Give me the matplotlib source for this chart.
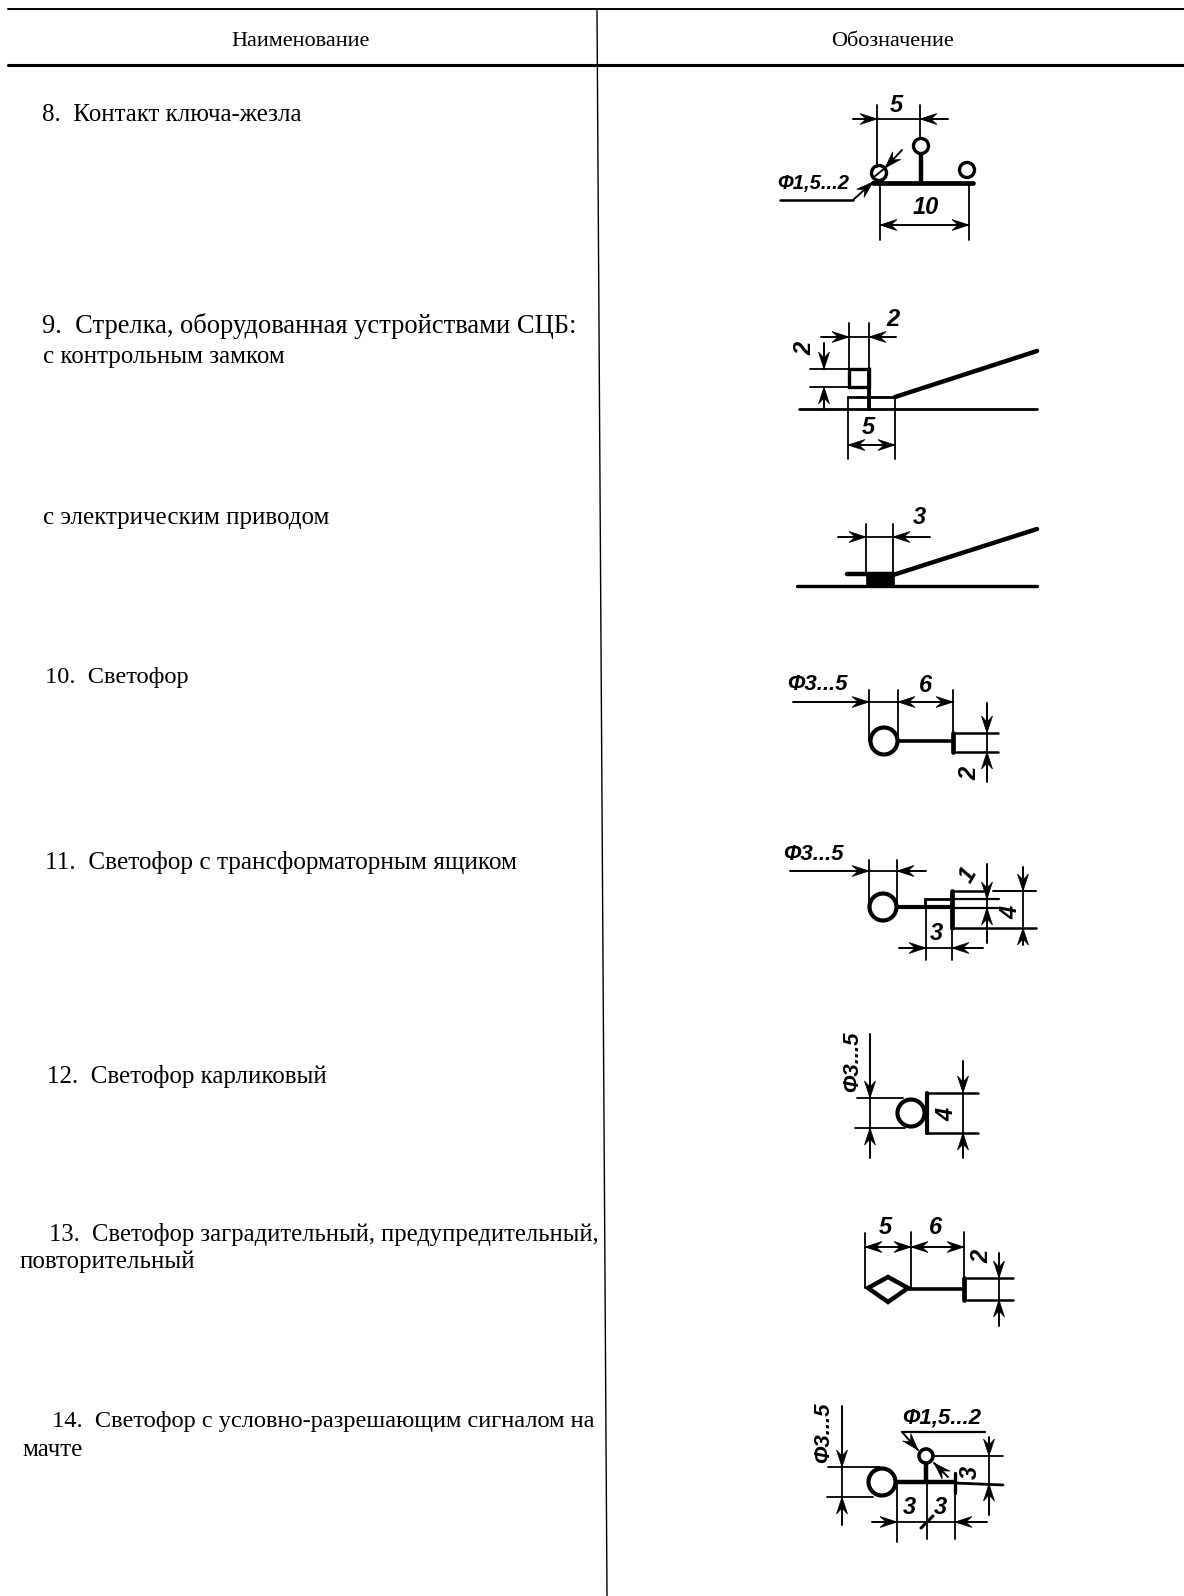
import math
import matplotlib
matplotlib.use("Agg")
import matplotlib.pyplot as plt
from matplotlib.patches import Circle, Polygon

W, H = 1184, 1596

header_names = ["Наименование", "Обозначение"]
row_labels = [
    "8.  Контакт ключа-жезла",
    "9.  Стрелка, оборудованная устройствами СЦБ:",
    "с контрольным замком",
    "с электрическим приводом",
    "10.  Светофор",
    "11.  Светофор с трансформаторным ящиком",
    "12.  Светофор карликовый",
    "13.  Светофор заградительный, предупредительный,",
    "повторительный",
    "14.  Светофор с условно-разрешающим сигналом на",
    "мачте",
]
label_x = [42, 42, 43, 43, 45, 45, 47, 49, 20, 52, 22]
label_y = [115, 326, 357, 518, 678, 863, 1076, 1235, 1262, 1422, 1450]
label_size = [18, 19.1, 18, 18, 17.6, 18.2, 18, 17.7, 18, 17.6, 18]

fig = plt.figure(figsize=(W / 100, H / 100), dpi=100)
ax = fig.add_axes([0, 0, 1, 1])
ax.set_xlim(0, W)
ax.set_ylim(H, 0)
ax.axis("off")


def line(xs, ys, lw=1.3):
    ax.plot(xs, ys, color="black", lw=lw, solid_capstyle="round", solid_joinstyle="miter")


def arrow(x0, y0, x1, y1):
    # tail to tip, thin shaft and a barbed head, in pixel coords of the axes
    d = math.hypot(x1 - x0, y1 - y0)
    ux, uy = (x1 - x0) / d, (y1 - y0) / d
    nx, ny = -uy, ux
    head = [
        (x1, y1),
        (x1 - 17 * ux + 5.5 * nx, y1 - 17 * uy + 5.5 * ny),
        (x1 - 11 * ux, y1 - 11 * uy),
        (x1 - 17 * ux - 5.5 * nx, y1 - 17 * uy - 5.5 * ny),
    ]
    ax.add_patch(Polygon(head, fc="black", ec="black", lw=0.5))
    line([x0, x1], [y0, y1], 1.4)


def ring(x, y, r, lw=3.0):
    ax.add_patch(Circle((x, y), r, fill=False, ec="black", lw=lw))


def dim(x, y, s, rot=0, size=17):
    ax.text(x, y, s, fontsize=size, family="Liberation Sans",
            style="italic", weight="bold", rotation=rot, ha="center", va="center")


# table rules
line([8, W], [9, 9], 1.4)
line([8, W], [65, 65], 2.2)
line([597, 607], [9, H], 1.0)

ax.text(301, 41, header_names[0], fontsize=16, family="Liberation Serif", ha="center", va="center")
ax.text(892, 41, header_names[1], fontsize=16, family="Liberation Serif", ha="center", va="center")
for s, x, y, fs in zip(row_labels, label_x, label_y, label_size):
    ax.text(x, y, s, fontsize=fs, family="Liberation Serif", ha="left", va="center")

# 8
line([873, 973], [183, 183], 3.4)
ring(879, 173, 7.5, 2.4)
ring(921, 146, 7.5, 2.4)
ring(967, 170, 7.5, 2.4)
line([921, 921], [155, 183], 3.2)
line([874, 885], [177, 168], 1.3)
line([877, 877], [105, 167])
line([920, 920], [105, 137])
line([880, 880], [183, 240])
line([969, 969], [183, 240])
line([877, 920], [119, 119])
arrow(853, 119, 877, 119)
arrow(948, 119, 920, 119)
arrow(925, 225, 880, 225)
arrow(925, 225, 969, 225)
line([780, 853], [200, 200], 1.8)
arrow(853, 200, 873, 182)
arrow(902, 150, 885, 168)
dim(896, 105, "5")
dim(813, 183, "Ф1,5...2", size=14.5)
dim(926, 208, "10")

# 9, control lock
line([799, 1037], [409, 409], 2.0)
line([895, 1037], [397, 351], 3.2)
line([848, 895], [397, 397], 2.0)
line([848, 848], [397, 459])
line([895, 895], [397, 459])
ax.add_patch(Polygon([(849, 369), (869, 369), (869, 387), (849, 387)], fill=False, ec="black", lw=2.4))
line([869, 869], [369, 409], 2.8)
line([849, 849], [323, 369])
line([869, 869], [323, 369])
line([810, 849], [369, 369])
line([810, 849], [387, 387])
line([849, 869], [337, 337])
arrow(821, 337, 849, 337)
arrow(896, 337, 869, 337)
arrow(824, 343, 824, 369)
arrow(824, 409, 824, 387)
arrow(872, 445, 848, 445)
arrow(872, 445, 895, 445)
dim(893, 320, "2")
dim(805, 348, "2", rot=90)
dim(868, 428, "5")

# 9, electric drive
line([797, 1037], [586, 586], 2.4)
line([893, 1037], [575, 529], 3.2)
line([847, 893], [574, 574], 3.2)
ax.add_patch(Polygon([(866, 573), (894, 573), (894, 586), (866, 586)], fc="black", ec="black", lw=0.5))
line([866, 866], [524, 574])
line([893, 893], [524, 574])
line([866, 893], [537, 537])
arrow(838, 537, 866, 537)
arrow(930, 537, 893, 537)
dim(919, 518, "3")

# 10
ring(884, 741, 13.5, 3.0)
line([869, 869], [690, 741])
line([898, 898], [690, 741])
arrow(793, 702, 869, 702)
line([869, 898], [702, 702])
arrow(925, 702, 898, 702)
arrow(925, 702, 953, 702)
line([898, 953], [741, 741], 2.6)
line([953, 953], [733, 752], 3.4)
line([953, 998], [733, 733], 1.8)
line([953, 998], [752, 752], 1.8)
line([953, 953], [690, 733])
arrow(987, 703, 987, 733)
arrow(987, 782, 987, 752)
line([987, 987], [733, 752])
dim(817, 684, "Ф3...5", size=16)
dim(925, 685, "6")
dim(970, 773, "2", rot=90)

# 11
ring(883, 907, 13.5, 3.0)
line([869, 869], [860, 907])
line([897, 897], [860, 907])
line([869, 897], [871, 871])
arrow(790, 871, 869, 871)
arrow(926, 871, 897, 871)
line([897, 953], [907, 907], 3.0)
ax.add_patch(Polygon([(925, 899), (952, 899), (952, 907), (925, 907)], fill=False, ec="black", lw=2.0))
line([952, 952], [891, 928], 3.4)
line([952, 983], [891, 891], 1.8)
line([993, 1036], [891, 891], 1.4)
line([952, 999], [899, 899], 1.6)
line([952, 998], [908, 908], 1.6)
line([952, 1036], [928, 928], 1.8)
line([987, 987], [899, 908])
arrow(987, 864, 987, 899)
arrow(987, 943, 987, 908)
line([1023, 1023], [891, 928])
arrow(1023, 867, 1023, 891)
arrow(1023, 945, 1023, 928)
line([926, 926], [907, 960])
line([952, 952], [928, 960])
line([926, 952], [948, 948])
arrow(899, 948, 926, 948)
arrow(983, 948, 952, 948)
dim(813, 855, "Ф3...5", size=16)
dim(968, 875, "1", rot=60)
dim(1011, 912, "4", rot=90)
dim(936, 934, "3")

# 12
ring(911, 1113, 13.5, 3.0)
line([857, 903], [1098, 1098])
line([855, 905], [1128, 1128])
line([870, 870], [1098, 1128])
arrow(870, 1034, 870, 1098)
arrow(870, 1158, 870, 1128)
line([927, 927], [1093, 1133], 3.0)
line([927, 978], [1093, 1093], 1.8)
line([927, 978], [1133, 1133], 1.8)
line([963, 963], [1093, 1133])
arrow(963, 1061, 963, 1093)
arrow(963, 1158, 963, 1133)
dim(853, 1062, "Ф3...5", rot=90, size=16)
dim(947, 1114, "4", rot=90)

# 13
ax.add_patch(Polygon([(868, 1288), (888, 1277), (908, 1288), (888, 1302)], fill=False, ec="black", lw=3.2))
line([865, 865], [1233, 1288])
line([911, 911], [1232, 1288])
line([964, 964], [1232, 1277])
arrow(888, 1247, 865, 1247)
arrow(888, 1247, 911, 1247)
arrow(937, 1247, 911, 1247)
arrow(937, 1247, 964, 1247)
line([908, 964], [1289, 1289], 2.6)
line([964, 964], [1278, 1300], 3.4)
line([964, 1013], [1278, 1278], 1.8)
line([964, 1013], [1300, 1300], 1.8)
line([999, 999], [1278, 1300])
arrow(999, 1253, 999, 1278)
arrow(999, 1326, 999, 1300)
dim(885, 1227, "5")
dim(935, 1227, "6")
dim(982, 1256, "2", rot=90)

# 14
ring(882, 1482, 13.5, 3.0)
line([828, 880], [1467, 1467])
line([827, 873], [1497, 1497])
line([842, 842], [1467, 1497])
arrow(842, 1406, 842, 1467)
arrow(842, 1525, 842, 1497)
line([897, 955], [1482, 1482], 3.2)
line([955, 1003], [1483, 1485], 2.0)
ring(926, 1456, 7, 2.6)
line([926, 926], [1464, 1482], 3.2)
line([955, 955], [1473, 1493], 2.4)
line([897, 897], [1482, 1542])
line([927, 927], [1482, 1539])
line([955, 955], [1493, 1539])
line([897, 955], [1522, 1522])
arrow(872, 1522, 897, 1522)
arrow(987, 1522, 955, 1522)
line([921, 933], [1528, 1516], 2.2)
line([902, 985], [1432, 1432], 1.6)
arrow(902, 1432, 918, 1450)
arrow(948, 1477, 934, 1463)
line([935, 1003], [1456, 1456])
line([989, 989], [1456, 1484])
arrow(989, 1437, 989, 1456)
arrow(989, 1515, 989, 1484)
dim(824, 1433, "Ф3...5", rot=90, size=16)
dim(942, 1418, "Ф1,5...2", size=16)
dim(970, 1472, "3", rot=90)
dim(909, 1508, "3")
dim(940, 1508, "3")

fig.savefig("out.png", dpi=100, facecolor="white")
